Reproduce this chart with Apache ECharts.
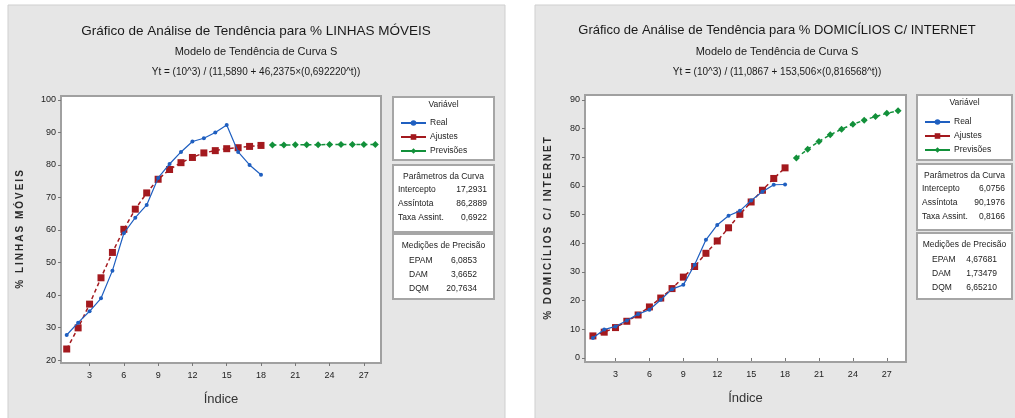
<!DOCTYPE html>
<html>
<head>
<meta charset="utf-8">
<script src="https://cdn.jsdelivr.net/npm/echarts@6/dist/echarts.min.js"></script>
<style>
  html, body { margin: 0; padding: 0; background: #fff; }
  #c { width: 1015px; height: 418px; }
</style>
</head>
<body>
<div id="c"></div>
<script>
// Time index of observed periods and of forecast periods
const indices = [1, 2, 3, 4, 5, 6, 7, 8, 9, 10, 11, 12, 13, 14, 15, 16, 17, 18];
const forecastIndices = [19, 20, 21, 22, 23, 24, 25, 26, 27, 28];
const xTicks = [3, 6, 9, 12, 15, 18, 21, 24, 27];

// % LINHAS MÓVEIS
const mobileTicks = [20, 30, 40, 50, 60, 70, 80, 90, 100];
const mobileReal = [27.7, 31.5, 35.0, 39.0, 47.5, 59.0, 63.8, 67.7, 76.0, 80.3, 84.0, 87.2, 88.2, 90.0, 92.3, 84.0, 80.0, 77.0];
const mobileFit = [23.4, 29.9, 37.2, 45.3, 53.1, 60.2, 66.4, 71.4, 75.6, 78.6, 80.7, 82.3, 83.7, 84.4, 85.0, 85.3, 85.7, 86.0];
const mobileForecast = [86.1, 86.1, 86.2, 86.2, 86.2, 86.3, 86.3, 86.3, 86.3, 86.3];
const mobileParams = [['Intercepto', '17,2931'], ['Assíntota', '86,2889'], ['Taxa Assint.', '0,6922']];
const mobileAccuracy = [['EPAM', '6,0853'], ['DAM', '3,6652'], ['DQM', '20,7634']];

// % DOMICÍLIOS C/ INTERNET
const internetTicks = [0, 10, 20, 30, 40, 50, 60, 70, 80, 90];
const internetReal = [7.0, 9.9, 11.0, 13.1, 15.3, 16.8, 20.3, 24.0, 25.5, 32.5, 41.2, 46.4, 49.6, 51.3, 54.9, 58.0, 60.4, 60.5];
const internetFit = [7.7, 9.0, 10.6, 12.8, 15.0, 17.8, 20.9, 24.2, 28.2, 31.9, 36.5, 40.8, 45.4, 50.1, 54.4, 58.5, 62.6, 66.3];
const internetForecast = [69.7, 72.8, 75.5, 77.8, 79.8, 81.5, 82.9, 84.2, 85.3, 86.2];
const internetParams = [['Intercepto', '6,0756'], ['Assíntota', '90,1976'], ['Taxa Assint.', '0,8166']];
const internetAccuracy = [['EPAM', '4,67681'], ['DAM', '1,73479'], ['DQM', '6,65210']];

const FONT = "'Liberation Sans', Arial, sans-serif";
const BLUE = '#1f5fc0';
const RED = '#a3191e';
const GREEN = '#12903a';
const TXT = '#222';

const pairs = (xs, ys) => xs.map((x, i) => [x, ys[i]]);

function xAxisFor(gridIndex, min, max) {
  return {
    type: 'value', gridIndex, min, max,
    name: 'Índice', nameLocation: 'middle', nameGap: 30,
    nameTextStyle: { fontFamily: FONT, fontSize: 13, color: '#333' },
    axisLine: { show: false },
    axisTick: { show: true, length: 3, customValues: xTicks, lineStyle: { color: '#777' } },
    axisLabel: { customValues: xTicks, fontFamily: FONT, fontSize: 9, color: TXT, margin: 8 },
    splitLine: { show: false }
  };
}

function yAxisFor(gridIndex, min, max, ticks, name, gap) {
  return {
    type: 'value', gridIndex, min, max,
    name, nameLocation: 'middle', nameGap: gap, nameRotate: 90,
    nameTextStyle: { fontFamily: FONT, fontSize: 10, fontWeight: 'bold', color: '#2a2a2a' },
    axisLine: { show: false },
    axisTick: { show: true, length: 3, customValues: ticks, lineStyle: { color: '#777' } },
    axisLabel: { customValues: ticks, fontFamily: FONT, fontSize: 9, color: TXT, margin: 5 },
    splitLine: { show: false }
  };
}

function spaced(s) {
  return s.split('').join('\u2009');
}

function seriesFor(idx, real, fit, forecast) {
  return [
    {
      name: 'Real', type: 'line', xAxisIndex: idx, yAxisIndex: idx,
      data: pairs(indices, real),
      symbol: 'circle', symbolSize: 4,
      lineStyle: { color: BLUE, width: 1.2 }, itemStyle: { color: BLUE },
      z: 4
    },
    {
      name: 'Ajustes', type: 'line', xAxisIndex: idx, yAxisIndex: idx,
      data: pairs(indices, fit),
      symbol: 'rect', symbolSize: 7,
      lineStyle: { color: RED, width: 1.5, type: [4, 3] }, itemStyle: { color: RED },
      z: 3
    },
    {
      name: 'Previsões', type: 'line', xAxisIndex: idx, yAxisIndex: idx,
      data: pairs(forecastIndices, forecast),
      symbol: 'diamond', symbolSize: 7,
      lineStyle: { color: GREEN, width: 1.5, type: [4, 3] }, itemStyle: { color: GREEN },
      z: 3
    }
  ];
}

function text(str, x, y, opts) {
  return {
    type: 'text', z: 10,
    style: Object.assign({
      text: str, x, y, font: '8.5px ' + FONT, fill: TXT,
      align: 'left', verticalAlign: 'middle'
    }, opts || {})
  };
}

function rect(x, y, w, h, fill, stroke, lw, z) {
  return {
    type: 'rect', z,
    shape: { x, y, width: w, height: h },
    style: { fill, stroke, lineWidth: lw }
  };
}

// Side panel with legend frame, curve parameters and accuracy measures
function sidePanel(bx, bw, tops, params, acc, labelX2, valueX2) {
  const cx = bx + bw / 2;
  const els = [];
  els.push(rect(bx, tops[0][0], bw, tops[0][1] - tops[0][0], '#fff', '#a6a6a6', 2, 1));
  els.push(rect(bx, tops[1][0], bw, tops[1][1] - tops[1][0], '#fff', '#a6a6a6', 2, 1));
  els.push(rect(bx, tops[2][0], bw, tops[2][1] - tops[2][0], '#fff', '#a6a6a6', 2, 1));
  els.push(text('Variável', cx, tops[0][0] + 8, { align: 'center' }));
  els.push(text('Parâmetros da Curva', cx, tops[1][0] + 12, { align: 'center' }));
  params.forEach((p, i) => {
    els.push(text(p[0], bx + 5, tops[1][0] + 25 + i * 14));
    els.push(text(p[1], bx + bw - 7, tops[1][0] + 25 + i * 14, { align: 'right' }));
  });
  els.push(text('Medições de Precisão', cx, tops[2][0] + 12, { align: 'center' }));
  acc.forEach((p, i) => {
    els.push(text(p[0], labelX2, tops[2][0] + 27 + i * 14));
    els.push(text(p[1], valueX2, tops[2][0] + 27 + i * 14, { align: 'right' }));
  });
  return els;
}

function titleBlock(cx, main, eq, size) {
  return [
    { text: main, left: cx, top: 24, textAlign: 'center', padding: 0,
      textStyle: { fontFamily: FONT, fontSize: size, fontWeight: 'normal', color: '#1a1a1a' } },
    { text: 'Modelo de Tendência de Curva S', left: cx, top: 46, textAlign: 'center', padding: 0,
      textStyle: { fontFamily: FONT, fontSize: 11, fontWeight: 'normal', color: '#1a1a1a' } },
    { text: eq, left: cx, top: 67, textAlign: 'center', padding: 0,
      textStyle: { fontFamily: FONT, fontSize: 10, fontWeight: 'normal', color: '#1a1a1a' } }
  ];
}

const legendNames = ['Real', 'Ajustes', 'Previsões'];
function legendAt(left, top) {
  return {
    data: legendNames, orient: 'vertical', left, top,
    itemWidth: 25, itemHeight: 7, itemGap: 4, selectedMode: false,
    lineStyle: { type: 'solid', width: 2 },
    textStyle: { fontFamily: FONT, fontSize: 8.5, color: TXT, lineHeight: 10, padding: [0, 0, 0, -1] }
  };
}

const chart = echarts.init(document.getElementById('c'), null, { renderer: 'canvas' });

chart.setOption({
  animation: false,
  backgroundColor: '#fff',
  title: [].concat(
    titleBlock(256, 'Gráfico de Análise de Tendência para % LINHAS MÓVEIS',
      'Yt = (10^3) / (11,5890 + 46,2375×(0,692220^t))', 13.5),
    titleBlock(777, 'Gráfico de Análise de Tendência para % DOMICÍLIOS C/ INTERNET',
      'Yt = (10^3) / (11,0867 + 153,506×(0,816568^t))', 13)
  ),
  legend: [legendAt(395, 113), legendAt(919, 112)],
  grid: [
    { left: 61, top: 96, width: 320, height: 267, show: true, backgroundColor: '#fff',
      borderColor: '#a0a0a0', borderWidth: 2, containLabel: false },
    { left: 585, top: 95, width: 321, height: 267, show: true, backgroundColor: '#fff',
      borderColor: '#a0a0a0', borderWidth: 2, containLabel: false }
  ],
  xAxis: [xAxisFor(0, 0.5, 28.5), xAxisFor(1, 0.3, 28.7)],
  yAxis: [
    yAxisFor(0, 19.1, 101.2, mobileTicks, spaced('% LINHAS MÓVEIS'), 36),
    yAxisFor(1, -1.4, 91.7, internetTicks, spaced('% DOMICÍLIOS C/ INTERNET'), 32)
  ],
  graphic: {
    elements: [
      rect(8, 5, 497, 420, '#e6e6e6', '#cfcfcf', 1, -10),
      rect(535, 5, 485, 420, '#e6e6e6', '#cfcfcf', 1, -10)
    ].concat(
      sidePanel(393, 101, [[97, 160], [165, 232], [234, 299]], mobileParams, mobileAccuracy, 409, 477),
      sidePanel(917, 95, [[95, 160], [164, 230], [233, 299]], internetParams, internetAccuracy, 932, 997)
    )
  },
  series: [].concat(
    seriesFor(0, mobileReal, mobileFit, mobileForecast),
    seriesFor(1, internetReal, internetFit, internetForecast)
  )
});
</script>
</body>
</html>
